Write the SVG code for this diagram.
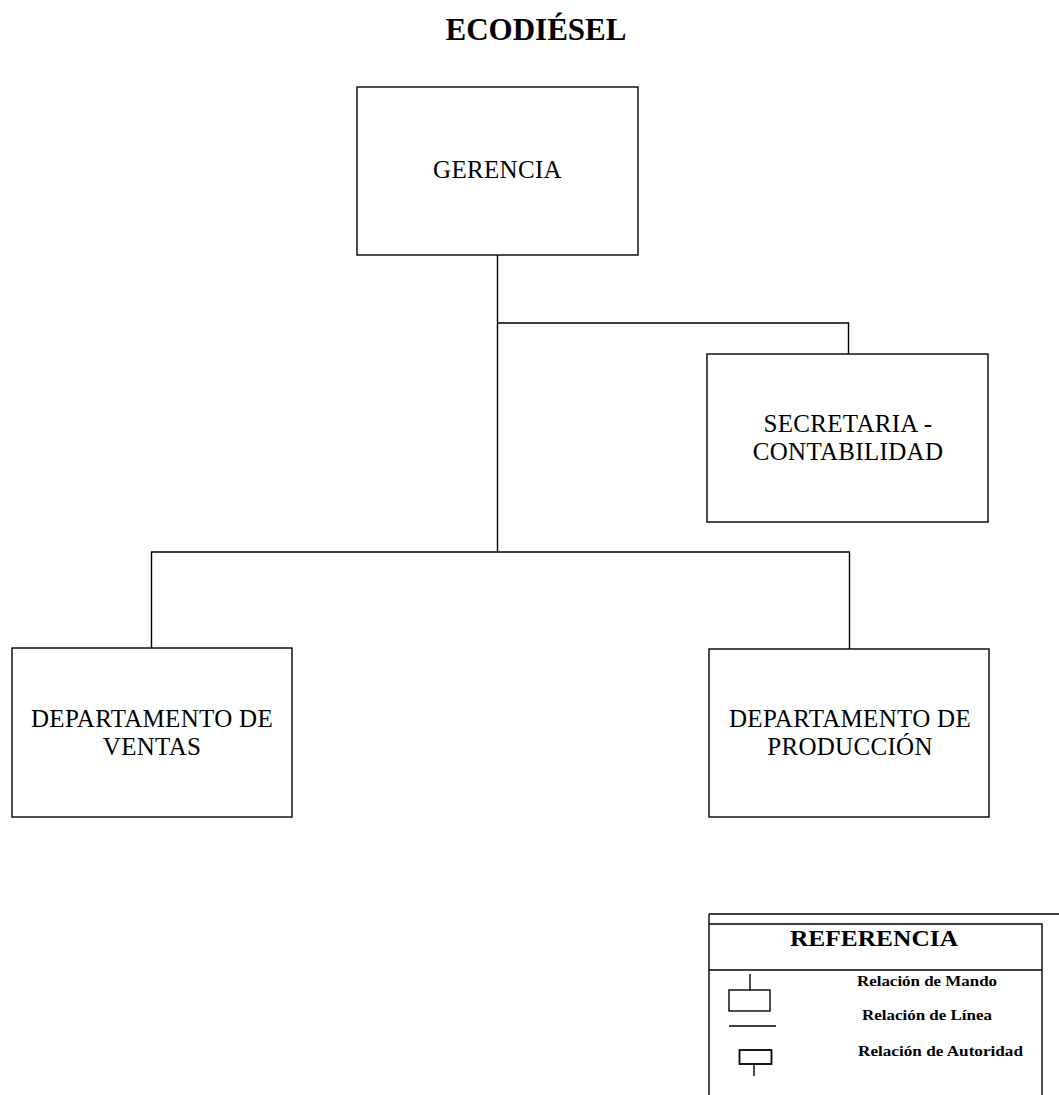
<svg xmlns="http://www.w3.org/2000/svg" width="1059" height="1095" viewBox="0 0 1059 1095">
  <style>
    .box { fill: #fff; stroke: #000; stroke-width: 1.4; }
    .wire { fill: none; stroke: #000; stroke-width: 1.4; }
    .lbl { font-family: "Liberation Serif", "Times New Roman", serif; font-size: 25px; fill: #000; text-anchor: middle; letter-spacing: 0.3px; }
    .title { font-family: "Liberation Serif", "Times New Roman", serif; font-size: 31px; font-weight: bold; fill: #000; text-anchor: middle; }
    .key { font-family: "Liberation Serif", "Times New Roman", serif; font-size: 15px; font-weight: bold; fill: #000; }
    .keyhead { font-family: "Liberation Serif", "Times New Roman", serif; font-size: 23px; font-weight: bold; fill: #000; }
  </style>
  <rect width="1059" height="1095" fill="#fff"/>

  <text class="title" x="536" y="40">ECODIÉSEL</text>

  <!-- reporting lines -->
  <g id="connectors">
    <path class="wire" d="M497.5 255 V552"/>
    <path class="wire" d="M497.5 323 H848.5 V354"/>
    <path class="wire" d="M151.5 648 V552 H849.5 V649"/>
  </g>

  <g id="gerencia">
    <rect class="box" x="357" y="87" width="281" height="168"/>
    <text class="lbl" x="497.5" y="178">GERENCIA</text>
  </g>

  <g id="secretaria">
    <rect class="box" x="707" y="354" width="281" height="168"/>
    <text class="lbl" x="848" y="432">SECRETARIA -</text>
    <text class="lbl" x="848" y="460">CONTABILIDAD</text>
  </g>

  <g id="ventas">
    <rect class="box" x="12" y="648" width="280" height="169"/>
    <text class="lbl" x="152" y="727">DEPARTAMENTO DE</text>
    <text class="lbl" x="152" y="755">VENTAS</text>
  </g>

  <g id="produccion">
    <rect class="box" x="709" y="649" width="280" height="168"/>
    <text class="lbl" x="850" y="727">DEPARTAMENTO DE</text>
    <text class="lbl" x="850" y="755">PRODUCCIÓN</text>
  </g>

  <!-- legend panel -->
  <g id="legend">
    <path class="wire" d="M709 914 H1059"/>
    <path class="wire" d="M709 914 V1095"/>
    <path class="wire" d="M709 924 H1042 V1095"/>
    <path class="wire" d="M709 970 H1042"/>
    <text class="keyhead" x="790" y="946" textLength="168" lengthAdjust="spacingAndGlyphs">REFERENCIA</text>

    <path class="wire" d="M750 974 V990"/>
    <rect class="box" x="729" y="990" width="41" height="21"/>
    <text class="key" x="857" y="986" textLength="140" lengthAdjust="spacingAndGlyphs">Relación de Mando</text>

    <path class="wire" d="M729 1026 H776"/>
    <text class="key" x="862" y="1020" textLength="130" lengthAdjust="spacingAndGlyphs">Relación de Línea</text>

    <rect class="box" x="739.5" y="1050" width="32" height="14" style="stroke-width:1.8"/>
    <path class="wire" d="M754 1064 V1076"/>
    <text class="key" x="858" y="1056" textLength="165" lengthAdjust="spacingAndGlyphs">Relación de Autoridad</text>
  </g>
</svg>
